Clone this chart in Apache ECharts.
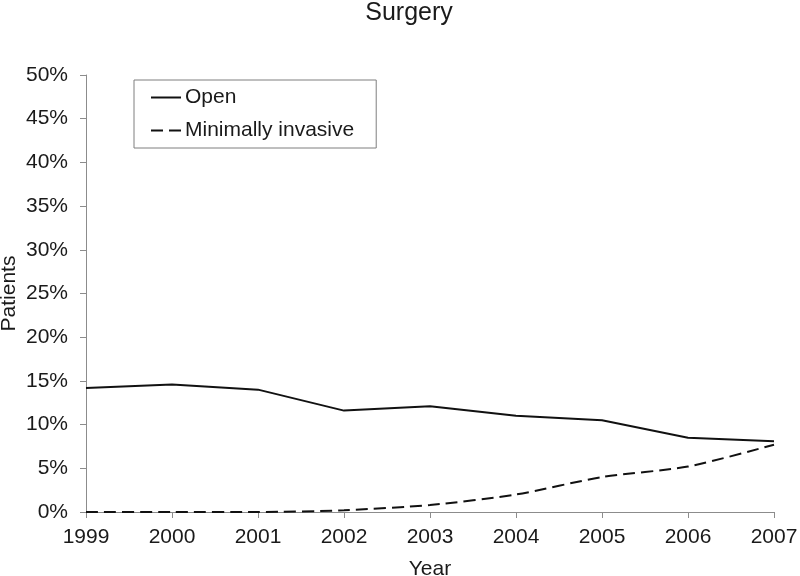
<!DOCTYPE html>
<html>
<head>
<meta charset="utf-8">
<script src="https://cdn.jsdelivr.net/npm/echarts@6/dist/echarts.min.js"></script>
<style>html,body{margin:0;padding:0;background:#fff}#c{width:800px;height:576px}</style>
</head>
<body>
<div id="c"></div>
<script>
var years = ['1999','2000','2001','2002','2003','2004','2005','2006','2007'];
var openVals = [14.2, 14.6, 14.0, 11.6, 12.1, 11.0, 10.5, 8.5, 8.1];
var minVals = [0.0, 0.0, 0.0, 0.2, 0.8, 2.0, 4.0, 5.2, 7.7];
var seriesNames = ['Open', 'Minimally invasive'];

var font = 'Liberation Sans, Arial, sans-serif';
var chart = echarts.init(document.getElementById('c'));
chart.setOption({
  animation: false,
  backgroundColor: '#fff',
  title: {
    text: 'Surgery', left: 404, textAlign: 'center', top: -4,
    textStyle: {fontFamily: font, fontSize: 25, fontWeight: 'normal', color: '#1a1a1a'}
  },
  legend: {
    orient: 'vertical', left: 134, top: 80,
    padding: [7, 22, 7, 16],
    itemWidth: 30, itemHeight: 14, itemGap: 12,
    borderColor: '#7f7f7f', borderWidth: 1,
    itemStyle: {opacity: 0},
    textStyle: {fontFamily: font, fontSize: 21, color: '#1a1a1a', padding: [0,0,0,-1]},
    data: seriesNames
  },
  grid: {left: 86, right: 26, top: 75, bottom: 64, containLabel: false, outerBoundsMode: 'none'},
  xAxis: {
    type: 'category', data: years, boundaryGap: false,
    name: 'Year', nameLocation: 'middle', nameGap: 47, nameMoveOverlap: false,
    nameTextStyle: {fontFamily: font, fontSize: 21, color: '#1a1a1a'},
    axisLine: {lineStyle: {color: '#8c8c8c', width: 1}},
    axisTick: {length: 6, lineStyle: {color: '#8c8c8c'}},
    axisLabel: {fontFamily: font, fontSize: 21, color: '#1a1a1a', margin: 15}
  },
  yAxis: {
    type: 'value', min: 0, max: 50, interval: 5,
    name: 'Patients', nameLocation: 'middle', nameGap: 66, nameMoveOverlap: false,
    nameTextStyle: {fontFamily: font, fontSize: 21, color: '#1a1a1a'},
    axisLine: {show: true, lineStyle: {color: '#8c8c8c', width: 1}},
    axisTick: {show: true, length: 6, lineStyle: {color: '#8c8c8c'}},
    splitLine: {show: false},
    axisLabel: {fontFamily: font, fontSize: 21, color: '#1a1a1a', margin: 18, formatter: '{value}%'}
  },
  series: [
    {name: seriesNames[0], type: 'line', data: openVals, symbol: 'none',
     lineStyle: {color: '#111', width: 2}, itemStyle: {color: '#111'}},
    {name: seriesNames[1], type: 'line', data: minVals, symbol: 'none', smooth: 0.25,
     lineStyle: {color: '#111', width: 2, type: [12, 6]}, itemStyle: {color: '#111'}}
  ]
});
</script>
</body>
</html>
